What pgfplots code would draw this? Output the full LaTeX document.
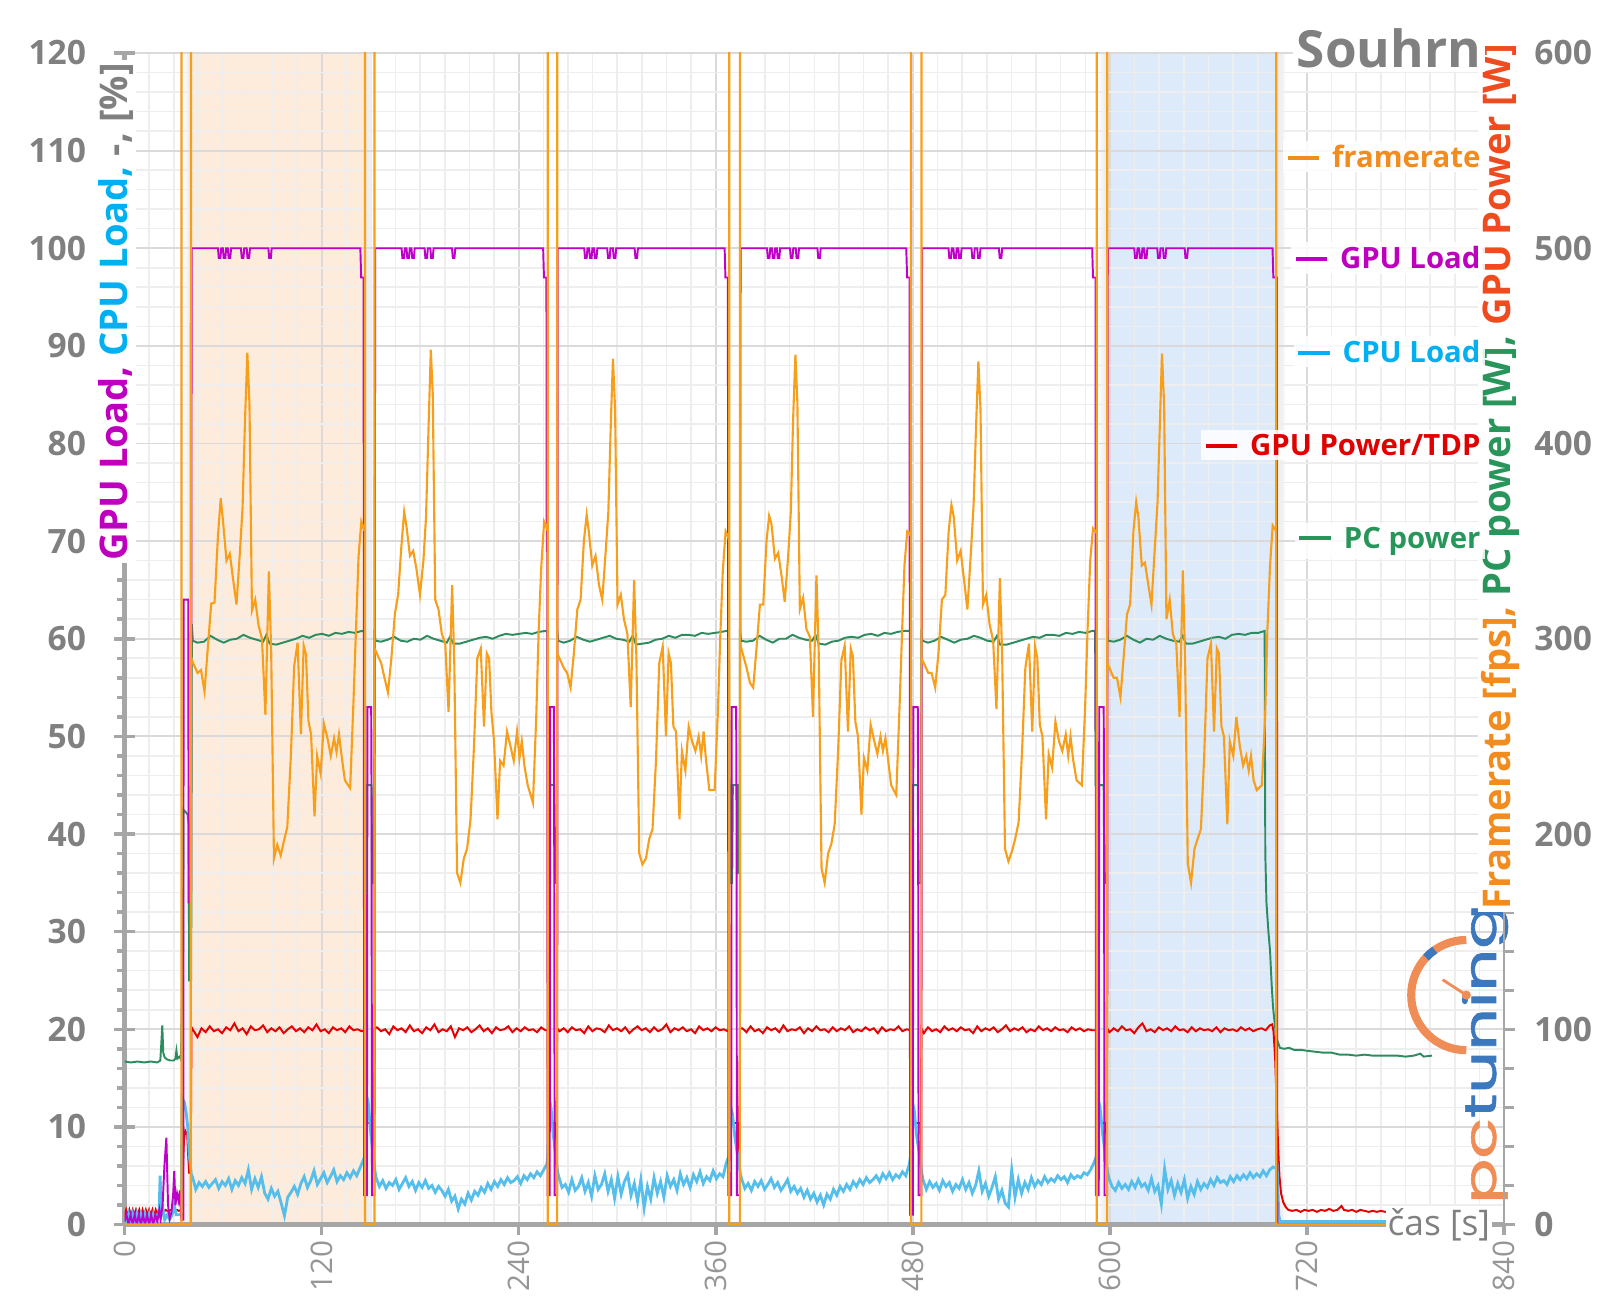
\documentclass[border=0pt]{standalone}
\usepackage{fontspec}
\setmainfont{Open Sans}
\newfontfamily\logofont{Poppins}[FakeBold=1.3]
\usepackage{pgfplots}
\pgfplotsset{compat=1.18}
\definecolor{cfr}{RGB}{247,158,27}
\definecolor{cgl}{RGB}{190,0,200}
\definecolor{ccpu}{RGB}{85,190,235}
\definecolor{cgp}{RGB}{232,0,0}
\definecolor{cpc}{RGB}{45,140,95}
\definecolor{tfr}{RGB}{242,140,30}
\definecolor{tgl}{RGB}{190,0,190}
\definecolor{tcpu}{RGB}{0,176,240}
\definecolor{tgp}{RGB}{225,0,0}
\definecolor{tpc}{RGB}{40,150,90}
\definecolor{tgpw}{RGB}{240,75,30}
\definecolor{tgray}{RGB}{128,128,128}
\definecolor{xlgray}{RGB}{150,150,150}
\definecolor{axgray}{RGB}{166,166,166}
\definecolor{gmaj}{RGB}{218,218,218}
\definecolor{gmin}{RGB}{238,238,238}
\definecolor{bando}{RGB}{253,236,220}
\definecolor{bandb}{RGB}{220,234,250}
\definecolor{shd}{RGB}{232,232,232}
\definecolor{pco}{RGB}{240,140,85}
\definecolor{pcb}{RGB}{60,120,190}
\newcommand{\fTickY}{\fontsize{9.5}{11}\selectfont\bfseries}
\newcommand{\fTickX}{\fontsize{8.4}{10}\selectfont}
\newcommand{\fLab}{\fontsize{10.8}{12}\selectfont\bfseries}
\newcommand{\fLeg}{\fontsize{8.3}{10}\selectfont\bfseries}
\newcommand{\legitem}[2]{\textcolor{#1}{\rule[0.27em]{9pt}{1.1pt}\hspace{3.6pt}#2}}
\begin{document}
\begin{tikzpicture}
\begin{axis}[
  at={(0pt,0pt)}, anchor=south west,
  scale only axis, width=390.6pt, height=331.7pt,
  xmin=0, xmax=840, ymin=0, ymax=120,
  set layers, clip mode=individual,
  axis x line*=bottom, axis y line*=left,
  axis line style={draw=axgray, line width=1.2pt},
  xtick={0,120,240,360,480,600,720,840},
  ytick={0,10,...,120},
  minor y tick num=4,
  xmajorgrids, ymajorgrids, yminorgrids,
  major grid style={draw=gmaj, line width=0.55pt},
  minor grid style={draw=gmin, line width=0.45pt},
  extra x ticks={15,30,45,60,75,90,105,135,150,165,180,195,210,225,255,270,285,300,315,330,345,375,390,405,420,435,450,465,495,510,525,540,555,570,585,615,630,645,660,675,690,705,735,750,765,780,795,810,825},
  extra x tick labels={},
  extra x tick style={major tick length=0pt, grid=major, major grid style={draw=gmin, line width=0.45pt}},
  extra y ticks={0,10,20,30,40,50,60,70,80,90,100,110,120},
  extra y tick labels={},
  extra y tick style={tick align=center, major tick length=5.7pt, grid=major, major grid style={draw=gmaj, line width=0.55pt}},
  tick align=outside,
  major tick length=3pt, minor tick length=2.2pt,
  tick style={draw=axgray, line width=1pt},
  /pgf/number format/assume math mode=true,
  xticklabel style={rotate=90, anchor=east, inner sep=1.4pt, font=\fTickX, text=xlgray},
  yticklabel style={inner sep=0pt, xshift=-7.7pt, font=\fTickY, text=tgray},
]
% band shadows and bands
\addplot[draw=none, left color=white, right color=shd, on layer=axis background, forget plot] coordinates {(35.4,0)(35.4,120)(40.4,120)(40.4,0)} \closedcycle;
\addplot[draw=none, left color=shd, right color=white, on layer=axis background, forget plot] coordinates {(146.6,0)(146.6,120)(152.6,120)(152.6,0)} \closedcycle;
\addplot[draw=none, left color=white, right color=shd, on layer=axis background, forget plot] coordinates {(592.3,0)(592.3,120)(598.3,120)(598.3,0)} \closedcycle;
\addplot[draw=none, left color=shd, right color=white, on layer=axis background, forget plot] coordinates {(701.5,0)(701.5,120)(707.5,120)(707.5,0)} \closedcycle;
\addplot[draw=none, fill=bando, on layer=axis background, forget plot] coordinates {(40.4,0)(40.4,120)(146.6,120)(146.6,0)} \closedcycle;
\addplot[draw=none, fill=bandb, on layer=axis background, forget plot] coordinates {(598.3,0)(598.3,120)(701.5,120)(701.5,0)} \closedcycle;
% PC power (left-axis units = W/5)
\addplot[cpc, line width=0.55pt] coordinates {
(0,16.7)(4,16.6)(8,16.7)(12,16.6)(16,16.7)(20,16.6)(21.8,16.8)(22.4,18.5)(23,20.4)(23.6,17.6)(24.5,17.1)(26,16.9)(28,16.8)(30,16.8)(31,17.0)(31.6,17.8)(32.2,17.0)(33.5,17.2)(34.4,16.9)(34.8,22)(35.6,26)(35.9,42.5)(38.5,42)(39.0,41)(39.4,25)(40.6,25)(41.0,61.5)(41.6,59.8)
(44.4,59.6)(48.4,59.7)(52.4,60.3)(56.4,59.9)(60.4,59.6)(64.4,59.9)(68.4,60.0)(72.4,60.4)(76.4,60.1)(80.4,59.9)(84.4,59.7)(86.4,60.4)(88.4,59.5)(92.4,59.4)(96.4,59.6)(100.4,59.8)(104.4,60.0)(108.4,60.3)(112.4,60.1)(116.4,60.4)(120.4,60.5)(124.4,60.3)(128.4,60.6)(132.4,60.5)(136.4,60.7)(140.4,60.6)(144.4,60.8)(146.3,60.7)
(146.6,34)(147.2,34)(147.6,45)(150.4,45)(150.8,35)(151.9,35)(152.2,61)(152.8,59.8)
(156.2,59.7)(160.2,59.9)(164.2,60.2)(168.2,59.8)(172.2,59.7)(176.2,60.0)(180.2,59.9)(184.2,60.3)(188.2,60.0)(192.2,59.8)(196.2,59.6)(198.2,60.2)(200.2,59.5)(204.2,59.5)(208.2,59.7)(212.2,59.9)(216.2,60.1)(220.2,60.2)(224.2,60.0)(228.2,60.3)(232.2,60.5)(236.2,60.4)(240.2,60.5)(244.2,60.6)(248.2,60.5)(252.2,60.7)(256.2,60.8)(257.6,60.7)
(257.9,38.9)(258.5,39)(258.9,45)(261.6,45)(262.0,35)(263.1,35)(263.4,61)(264.0,59.8)
(267.4,59.6)(271.4,59.8)(275.4,60.2)(279.4,59.9)(283.4,59.7)(287.4,59.9)(291.4,60.1)(295.4,60.3)(299.4,60.0)(303.4,59.9)(307.4,59.7)(309.4,60.3)(311.4,59.4)(315.4,59.5)(319.4,59.6)(323.4,59.9)(327.4,60.0)(331.4,60.3)(335.4,60.1)(339.4,60.4)(343.4,60.4)(347.4,60.3)(351.4,60.6)(355.4,60.5)(359.4,60.6)(363.4,60.7)(366.4,60.8)(368.0,60.8)
(368.4,45)(368.8,45)(369.1,35)(370.0,35)(370.4,45)(373.2,45)(373.6,36)(374.4,36)(374.7,61)(375.3,59.8)
(378.7,59.7)(382.7,59.8)(386.7,60.3)(390.7,59.9)(394.7,59.6)(398.7,60.0)(402.7,60.0)(406.7,60.4)(410.7,60.1)(414.7,59.9)(418.7,59.8)(420.7,60.4)(422.7,59.5)(426.7,59.4)(430.7,59.7)(434.7,59.8)(438.7,60.1)(442.7,60.2)(446.7,60.1)(450.7,60.4)(454.7,60.5)(458.7,60.3)(462.7,60.6)(466.7,60.5)(470.7,60.7)(474.7,60.8)(478.6,60.8)
(479.0,40)(479.6,40)(480.0,45)(483.0,45)(483.4,35)(484.9,35)(485.2,61)(485.8,59.8)
(489.2,59.6)(493.2,59.8)(497.2,60.2)(501.2,59.9)(505.2,59.6)(509.2,59.9)(513.2,60.0)(517.2,60.3)(521.2,60.1)(525.2,59.8)(529.2,59.7)(531.2,60.3)(533.2,59.4)(537.2,59.4)(541.2,59.6)(545.2,59.8)(549.2,60.0)(553.2,60.2)(557.2,60.1)(561.2,60.4)(565.2,60.4)(569.2,60.3)(573.2,60.6)(577.2,60.5)(581.2,60.7)(585.2,60.6)(589.2,60.8)(591.0,60.8)
(591.3,45)(591.9,45)(592.2,33)(593.0,33)(593.4,45)(596.2,45)(596.6,35)(598.0,35)(598.3,61)(598.9,59.8)
(602.3,59.7)(606.3,59.9)(610.3,60.3)(614.3,59.9)(618.3,59.6)(622.3,60.0)(626.3,59.9)(630.3,60.3)(634.3,60.0)(638.3,59.8)(642.3,59.7)(644.3,60.3)(646.3,59.5)(650.3,59.5)(654.3,59.7)(658.3,59.9)(662.3,60.1)(666.3,60.2)(670.3,60.0)(674.3,60.4)(678.3,60.5)(682.3,60.4)(686.3,60.6)(690.3,60.6)(694.2,60.8)
(694.6,38)(695.3,33)(696.5,30)(697.5,28)(698.5,24.5)(699.3,22.3)(700.5,20.3)(701.8,18.9)(703.5,18.1)(706,18.0)(709,18.1)(712,17.9)(716,17.9)(720,17.8)(725,17.7)(730,17.6)(735,17.6)(740,17.4)(745,17.4)(750,17.3)(755,17.4)(760,17.3)(765,17.3)(770,17.3)(775,17.3)(780,17.2)(785,17.3)(789,17.5)(791,17.2)(796,17.3)
};
% GPU Power / TDP
\addplot[cgp, line width=0.55pt] coordinates {
(0,0.8)(1,1.5)(2,0.9)(3,1.5)(4,0.9)(5,1.5)(6,0.9)(7,1.5)(8,0.9)(9,1.5)(10,0.9)(11,1.5)(12,0.9)(13,1.5)(14,0.9)(15,1.5)(16,0.9)(17,1.5)(18,0.9)(19,1.5)(20,1.0)(21,1.5)(22,1.3)(23,1.5)(24,1.3)(25,1.5)(26,1.4)(27,1.4)(28,1.5)(29,1.4)(30,1.5)(31,1.4)(32,1.5)(33,1.4)(34.6,1.5)(35.4,5)(36.2,8.6)(37,9.6)(38.2,9.2)(38.8,7)(39.4,5.3)(40.3,5.3)(40.8,20.2)
(41.9,19.9)(44.4,19.2)(46.9,20.1)(49.4,19.7)(51.9,20.3)(54.4,19.8)(56.9,20.0)(59.4,19.6)(61.9,20.2)(64.4,19.9)(66.9,20.6)(69.4,19.8)(71.9,20.1)(74.4,19.5)(76.9,20.3)(79.4,19.9)(81.9,20.0)(84.4,20.4)(86.9,19.7)(89.4,20.1)(91.9,19.8)(94.4,20.2)(96.9,19.6)(99.4,20.0)(101.9,20.3)(104.4,19.8)(106.9,20.1)(109.4,19.7)(111.9,20.2)(114.4,19.9)(116.9,20.5)(119.4,19.8)(121.9,20.0)(124.4,19.6)(126.9,20.2)(129.4,19.9)(131.9,20.1)(134.4,19.7)(136.9,20.3)(139.4,19.9)(141.9,20.0)(144.4,19.8)
(146.3,19.9)(146.6,6.5)(146.75,10.4)(151.6,10.4)(151.75,6.5)(152.2,20.1)
(153.7,20.2)(156.2,19.8)(158.7,20.0)(161.2,19.5)(163.7,20.3)(166.2,19.9)(168.7,20.1)(171.2,19.7)(173.7,20.4)(176.2,19.8)(178.7,20.0)(181.2,19.6)(183.7,20.2)(186.2,19.9)(188.7,20.5)(191.2,19.7)(193.7,20.0)(196.2,19.8)(198.7,20.3)(201.2,19.2)(203.7,20.1)(206.2,19.9)(208.7,20.2)(211.2,19.7)(213.7,20.0)(216.2,20.4)(218.7,19.8)(221.2,20.1)(223.7,19.6)(226.2,20.2)(228.7,19.9)(231.2,20.0)(233.7,20.3)(236.2,19.7)(238.7,20.1)(241.2,19.8)(243.7,20.2)(246.2,19.9)(248.7,20.0)(251.2,19.7)(253.7,20.2)(256.2,19.9)
(257.6,19.9)(257.9,6.5)(258.05,10.4)(262.8,10.4)(262.95,6.5)(263.4,20.1)
(264.9,19.8)(267.4,20.1)(269.9,19.7)(272.4,20.2)(274.9,19.9)(277.4,20.0)(279.9,19.6)(282.4,20.3)(284.9,19.8)(287.4,20.1)(289.9,20.0)(292.4,19.7)(294.9,20.4)(297.4,19.9)(299.9,20.1)(302.4,19.8)(304.9,20.2)(307.4,19.6)(309.9,20.0)(312.4,20.3)(314.9,19.9)(317.4,20.1)(319.9,19.7)(322.4,20.2)(324.9,19.8)(327.4,20.0)(329.9,20.5)(332.4,19.7)(334.9,20.1)(337.4,19.9)(339.9,20.2)(342.4,19.8)(344.9,20.0)(347.4,19.6)(349.9,20.3)(352.4,19.9)(354.9,20.1)(357.4,19.8)(359.9,20.2)(362.4,19.9)(364.9,20.0)(367.4,19.8)
(368.1,19.9)(368.4,6.5)(368.55,10.4)(374.1,10.4)(374.25,6.5)(374.7,20.1)
(376.2,20.1)(378.7,19.7)(381.2,20.3)(383.7,19.8)(386.2,20.0)(388.7,19.6)(391.2,20.2)(393.7,19.9)(396.2,20.1)(398.7,19.7)(401.2,20.4)(403.7,19.8)(406.2,20.0)(408.7,19.9)(411.2,20.2)(413.7,19.6)(416.2,20.1)(418.7,19.8)(421.2,20.3)(423.7,19.9)(426.2,20.0)(428.7,19.7)(431.2,20.2)(433.7,19.8)(436.2,20.1)(438.7,19.9)(441.2,20.3)(443.7,19.7)(446.2,20.0)(448.7,19.8)(451.2,20.2)(453.7,19.9)(456.2,20.1)(458.7,19.6)(461.2,20.2)(463.7,19.8)(466.2,20.0)(468.7,19.9)(471.2,20.3)(473.7,19.8)(476.2,20.0)
(478.7,19.9)(479.0,6.5)(479.15,10.4)(484.6,10.4)(484.75,6.5)(485.2,20.1)
(486.7,19.6)(489.2,20.2)(491.7,19.8)(494.2,20.0)(496.7,19.7)(499.2,20.3)(501.7,19.9)(504.2,20.1)(506.7,19.8)(509.2,20.2)(511.7,19.9)(514.2,20.0)(516.7,19.6)(519.2,20.3)(521.7,19.8)(524.2,20.1)(526.7,19.9)(529.2,20.2)(531.7,19.7)(534.2,20.0)(536.7,20.4)(539.2,19.8)(541.7,20.1)(544.2,19.9)(546.7,20.2)(549.2,19.7)(551.7,20.0)(554.2,19.8)(556.7,20.3)(559.2,19.9)(561.7,20.1)(564.2,19.8)(566.7,20.2)(569.2,19.9)(571.7,20.0)(574.2,19.7)(576.7,20.2)(579.2,19.9)(581.7,20.1)(584.2,19.8)(586.7,20.0)(589.2,19.9)
(591.9,19.9)(592.2,6.5)(592.35,10.4)(597.7,10.4)(597.85,6.5)(598.3,20.1)
(599.8,19.7)(602.3,20.1)(604.8,19.8)(607.3,20.3)(609.8,19.9)(612.3,20.0)(614.8,19.6)(617.3,20.2)(619.8,20.6)(622.3,19.8)(624.8,20.0)(627.3,19.7)(629.8,20.2)(632.3,19.9)(634.8,20.1)(637.3,19.8)(639.8,20.3)(642.3,19.9)(644.8,20.0)(647.3,19.7)(649.8,20.2)(652.3,19.8)(654.8,20.1)(657.3,19.9)(659.8,20.0)(662.3,19.8)(664.8,20.2)(667.3,19.7)(669.8,20.1)(672.3,19.9)(674.8,20.0)(677.3,19.8)(679.8,20.2)(682.3,19.9)(684.8,20.1)(687.3,19.8)(689.8,20.0)(692.3,20.1)(694.8,19.9)(697.3,20.4)
(698.8,20.5)(699.6,19.8)(700.6,17)(701.6,12)(702.4,8)(703.2,5)(704.2,3.2)(705.5,2.3)(707,1.8)(708.6,1.5)(711,1.4)(713.5,1.5)(716,1.3)(718.5,1.5)(721,1.4)(723.5,1.5)(726,1.3)(728.5,1.5)(731,1.4)(733.5,1.6)(736,1.4)(738.5,1.5)(741,1.9)(742.5,1.5)(745,1.4)(747.5,1.5)(750,1.3)(752.5,1.5)(755,1.4)(757.5,1.3)(760,1.4)(762.5,1.3)(765,1.4)(767.5,1.3)(770,1.4)(772.5,1.3)(775,1.4)(777.5,1.5)(780,1.3)(782.5,1.4)(785,1.5)(787.5,1.3)(790,1.4)(792.5,1.3)(796,1.4)
};
% CPU Load
\addplot[ccpu, line width=0.8pt] coordinates {
(0,0.5)(1.2,0)(2.5,1)(3.7,0)(5,1)(6.2,0)(7.5,1)(8.7,0)(10,1)(11.2,0)(12.5,1)(13.7,0)(15,1)(16.2,0)(17.5,1)(18.7,0)(20,1)(21,1)(21.7,5)(22.4,1)(23.5,1.5)(24.5,0.5)(26,1)(27.5,0.5)(29,1)(30.3,2)(31.5,1)(33,1)(34.5,1)(35,13)(36.5,12.5)(37.5,11.5)(38.5,10)(39.5,7)(40.8,5)
(41.4,4.9)(43.4,3.6)(45.4,4.3)(47.4,3.9)(49.4,4.4)(51.4,3.8)(53.4,4.2)(55.4,4.6)(57.4,3.7)(59.4,4.4)(61.4,4.0)(63.4,4.7)(65.4,3.6)(67.4,4.5)(69.4,4.0)(71.4,4.8)(73.4,4.2)(75.4,5.6)(77.4,3.6)(79.4,4.7)(81.4,3.8)(83.4,4.9)(85.4,3.2)(87.4,2.6)(89.4,3.7)(91.4,2.9)(93.4,3.4)(95.4,2.2)(97.4,0.9)(99.4,2.8)(101.4,3.3)(103.4,3.9)(105.4,3.1)(107.4,4.2)(109.4,4.9)(111.4,3.8)(113.4,4.5)(115.4,5.5)(117.4,4.1)(119.4,4.7)(121.4,5.3)(123.4,4.3)(125.4,4.9)(127.4,5.6)(129.4,4.4)(131.4,5.0)(133.4,4.6)(135.4,5.3)(137.4,4.8)(139.4,5.5)(141.4,5.0)(143.4,5.8)(145.4,6.6)
(146.2,7)(147.4,13.2)(148.4,12.5)(149.6,10)(151.1,7.5)(152.5,5.5)
(153.2,4.8)(155.2,3.9)(157.2,4.5)(159.2,3.7)(161.2,4.3)(163.2,4.0)(165.2,4.6)(167.2,3.6)(169.2,4.2)(171.2,4.8)(173.2,3.9)(175.2,4.4)(177.2,3.5)(179.2,4.3)(181.2,3.8)(183.2,4.5)(185.2,3.7)(187.2,4.0)(189.2,3.3)(191.2,3.9)(193.2,3.5)(195.2,2.9)(197.2,3.6)(199.2,2.4)(201.2,2.9)(203.2,1.6)(205.2,2.6)(207.2,2.1)(209.2,3.2)(211.2,2.5)(213.2,3.4)(215.2,3.0)(217.2,3.8)(219.2,3.3)(221.2,4.2)(223.2,3.6)(225.2,4.4)(227.2,3.9)(229.2,4.6)(231.2,4.1)(233.2,4.8)(235.2,4.3)(237.2,4.5)(239.2,4.9)(241.2,4.2)(243.2,5.0)(245.2,4.6)(247.2,5.2)(249.2,4.8)(251.2,5.4)(253.2,5.0)(255.2,5.6)(257.2,6.2)
(257.6,7)(258.7,12.8)(259.7,12)(260.9,9.5)(262.4,7.2)(263.7,5.4)
(264.4,4.9)(266.4,3.8)(268.4,4.1)(270.4,3.3)(272.4,4.6)(274.4,3.5)(276.4,3.9)(278.4,4.8)(280.4,3.4)(282.4,4.3)(284.4,2.9)(286.4,5.0)(288.4,3.6)(290.4,4.1)(292.4,5.2)(294.4,3.4)(296.4,4.6)(298.4,2.7)(300.4,4.9)(302.4,3.1)(304.4,4.4)(306.4,5.1)(308.4,3.0)(310.4,4.2)(312.4,2.4)(314.4,4.6)(316.4,1.7)(318.4,3.9)(320.4,2.6)(322.4,4.8)(324.4,3.2)(326.4,4.4)(328.4,2.8)(330.4,5.0)(332.4,3.9)(334.4,4.6)(336.4,3.5)(338.4,5.2)(340.4,4.1)(342.4,4.8)(344.4,3.8)(346.4,5.1)(348.4,4.4)(350.4,5.4)(352.4,4.2)(354.4,4.9)(356.4,4.5)(358.4,5.5)(360.4,4.7)(362.4,5.2)(364.4,4.9)(366.4,6.3)
(368.0,7)(369.2,12)(370.2,11.3)(371.6,9)(373.4,7)(375.0,5.2)
(375.7,4.7)(377.7,3.7)(379.7,4.2)(381.7,3.5)(383.7,4.4)(385.7,3.9)(387.7,4.5)(389.7,3.6)(391.7,4.1)(393.7,4.7)(395.7,3.8)(397.7,4.3)(399.7,3.5)(401.7,4.0)(403.7,4.6)(405.7,3.4)(407.7,3.9)(409.7,3.2)(411.7,3.7)(413.7,2.8)(415.7,3.5)(417.7,2.6)(419.7,3.2)(421.7,2.3)(423.7,3.0)(425.7,2.0)(427.7,3.1)(429.7,2.6)(431.7,3.6)(433.7,3.0)(435.7,3.9)(437.7,3.4)(439.7,4.1)(441.7,3.6)(443.7,4.4)(445.7,3.9)(447.7,4.6)(449.7,4.1)(451.7,4.8)(453.7,4.3)(455.7,4.6)(457.7,5.0)(459.7,4.4)(461.7,5.2)(463.7,4.7)(465.7,5.3)(467.7,4.6)(469.7,5.1)(471.7,4.8)(473.7,5.4)(475.7,5.0)(477.7,6.1)
(478.6,7)(479.8,12.5)(480.8,11.8)(482.2,9.2)(484.0,7.2)(485.5,5.2)
(486.2,4.6)(488.2,3.6)(490.2,4.4)(492.2,3.8)(494.2,4.2)(496.2,3.5)(498.2,4.5)(500.2,3.9)(502.2,4.3)(504.2,3.4)(506.2,4.1)(508.2,3.7)(510.2,4.6)(512.2,3.6)(514.2,4.3)(516.2,3.2)(518.2,4.0)(520.2,5.5)(522.2,3.4)(524.2,4.2)(526.2,2.9)(528.2,3.8)(530.2,4.9)(532.2,2.6)(534.2,3.5)(536.2,2.2)(538.2,1.8)(540.2,5.6)(542.2,2.8)(544.2,4.6)(546.2,3.2)(548.2,4.3)(550.2,3.6)(552.2,4.8)(554.2,3.9)(556.2,4.5)(558.2,4.1)(560.2,4.9)(562.2,4.3)(564.2,4.7)(566.2,4.4)(568.2,5.0)(570.2,4.6)(572.2,4.9)(574.2,4.3)(576.2,5.1)(578.2,4.7)(580.2,5.0)(582.2,4.8)(584.2,5.3)(586.2,5.1)(588.2,5.6)(590.2,6.3)
(591.8,7)(593.0,12.8)(594.0,12)(595.4,9.5)(597.2,7.2)(598.6,5.3)
(599.3,4.8)(601.3,3.9)(603.3,3.5)(605.3,4.3)(607.3,3.7)(609.3,4.1)(611.3,3.6)(613.3,4.4)(615.3,3.8)(617.3,4.6)(619.3,3.9)(621.3,4.2)(623.3,3.5)(625.3,4.7)(627.3,3.4)(629.3,4.0)(631.3,2.1)(633.3,5.7)(635.3,3.6)(637.3,4.5)(639.3,3.0)(641.3,4.2)(643.3,3.3)(645.3,4.6)(647.3,2.7)(649.3,3.9)(651.3,3.1)(653.3,4.4)(655.3,3.6)(657.3,4.2)(659.3,3.8)(661.3,4.6)(663.3,4.0)(665.3,4.8)(667.3,4.3)(669.3,4.5)(671.3,4.1)(673.3,4.9)(675.3,4.4)(677.3,5.0)(679.3,4.6)(681.3,5.1)(683.3,4.7)(685.3,5.3)(687.3,4.8)(689.3,5.2)(691.3,4.9)(693.3,5.5)(695.3,5.0)(697.3,5.6)(699.3,5.9)
(700.9,5.8)(701.8,6.0)(702.8,1.0)(703.5,0.3)(770,0.3)
};
% GPU Load
\addplot[cgl, line width=0.55pt] coordinates {
(0,0.3)(1.2,1)(2.5,0)(3.7,1)(5,0)(6.2,1)(7.5,0)(8.7,1)(10,0)(11.2,1)(12.5,0)(13.7,1)(15,0)(16.2,1)(17.5,0)(18.7,1)(20,0.3)(21.2,1.5)(22,0.5)(23.2,2)(24.3,6)(25.5,8.9)(26.5,2)(27.5,0.6)(28.5,1.2)(29.6,3)(30.3,5.5)(31,2)(32,3.2)(33,2.4)(33.8,3.5)(34.6,0.5)(35.8,0.5)(36.0,64)(38.8,64)(39.1,33)(40.5,33)(40.9,100)
(56.9,100)(57.4,99)(58.4,99)(58.9,100)(59.9,100)(60.4,99)(61.4,99)(61.9,100)(62.9,100)(63.4,99)(64.4,99)(64.9,100)(70.9,100)(71.4,99)(72.4,99)(72.9,100)(74.4,100)(74.9,99)(75.9,99)(76.4,100)(87.6,100)(88.1,99)(89.1,99)(89.6,100)
(143.6,100)(144.1,97)(145.6,97)(145.9,3)(147.6,3)(147.9,53)(150.2,53)(150.4,45)(150.7,3)(152.2,3)(152.6,100)
(168.7,100)(169.2,99)(170.2,99)(170.7,100)(171.7,100)(172.2,99)(173.2,99)(173.7,100)(174.7,100)(175.2,99)(176.2,99)(176.7,100)(182.7,100)(183.2,99)(184.2,99)(184.7,100)(186.2,100)(186.7,99)(187.7,99)(188.2,100)(199.4,100)(199.9,99)(200.9,99)(201.4,100)
(254.9,100)(255.4,97)(256.9,97)(257.1,69)(257.4,69)(257.6,3)(258.9,3)(259.2,53)(261.4,53)(261.6,45)(261.9,3)(263.4,3)(263.8,100)
(279.9,100)(280.4,99)(281.4,99)(281.9,100)(282.9,100)(283.4,99)(284.4,99)(284.9,100)(285.9,100)(286.4,99)(287.4,99)(287.9,100)(293.9,100)(294.4,99)(295.4,99)(295.9,100)(297.4,100)(297.9,99)(298.9,99)(299.4,100)(310.6,100)(311.1,99)(312.1,99)(312.6,100)
(365.4,100)(365.9,97)(367.4,97)(367.7,3)(369.4,3)(369.7,53)(372.4,53)(372.6,45)(372.9,3)(374.7,3)(375.1,100)
(391.2,100)(391.7,99)(392.7,99)(393.2,100)(394.2,100)(394.7,99)(395.7,99)(396.2,100)(397.2,100)(397.7,99)(398.7,99)(399.2,100)(405.2,100)(405.7,99)(406.7,99)(407.2,100)(408.7,100)(409.2,99)(410.2,99)(410.7,100)(421.9,100)(422.4,99)(423.4,99)(423.9,100)
(476.0,100)(476.5,97)(478.0,97)(478.3,1)(480.0,1)(480.3,53)(483.0,53)(483.2,45)(483.5,3)(485.2,3)(485.6,100)
(501.7,100)(502.2,99)(503.2,99)(503.7,100)(504.7,100)(505.2,99)(506.2,99)(506.7,100)(507.7,100)(508.2,99)(509.2,99)(509.7,100)(515.7,100)(516.2,99)(517.2,99)(517.7,100)(519.2,100)(519.7,99)(520.7,99)(521.2,100)(532.4,100)(532.9,99)(533.9,99)(534.4,100)
(589.2,100)(589.7,97)(591.2,97)(591.5,3)(593.2,3)(593.5,53)(596.2,53)(596.4,45)(596.7,3)(598.3,3)(598.7,100)
(614.8,100)(615.3,99)(616.3,99)(616.8,100)(617.8,100)(618.3,99)(619.3,99)(619.8,100)(620.8,100)(621.3,99)(622.3,99)(622.8,100)(628.8,100)(629.3,99)(630.3,99)(630.8,100)(632.3,100)(632.8,99)(633.8,99)(634.3,100)(645.5,100)(646.0,99)(647.0,99)(647.5,100)
(699.0,100)(699.5,97)(701.6,97)(701.9,0)(770,0)
};
% framerate
\addplot[cfr, line width=0.6pt] coordinates {
(0,0)(34.7,0)(34.7,200)(34.75,0)(40.35,0)(40.4,200)
(40.5,58)(44.5,56.5)(46.6,56.8)(48.7,54.6)(50.7,59)(52.8,63.6)(54.8,63.7)(56.9,70.5)(58.6,74.4)(59.9,72.2)(62.1,68)(64.1,68.7)(66.2,66)(68.2,63.5)(70.4,69.2)(71.9,73.5)(73.4,82.5)(74.8,89.3)(76.1,84)(77.6,62.9)(79.6,64)(81.6,61.4)(83.7,60)(85.8,52.2)(87.9,66.9)(89.3,58.8)(91.0,37.5)(93.0,38.9)(95.1,37.8)(97.1,39.3)(99.1,40.7)(101.3,48)(103.3,57.2)(105.4,59.6)(107.4,50.2)(109.1,59.3)(110.5,58.4)(112.0,51.6)(113.6,50.2)(115.7,41.8)(117.3,48)(119.4,46.2)(121.4,51.3)(123.6,49.8)(125.6,48)(127.6,49.8)(129.1,48.4)(130.6,50.2)(132.2,48)(134.2,45.5)(137.4,44.7)(139.4,53.5)(140.9,60.7)(142.5,68.4)(144.2,72)(145.5,71.3)
(146.35,71)(146.4,200)(146.4,0)(152.2,0)(152.2,200)
(152.3,59)(156.3,57.5)(158.3,56)(160.4,54.5)(162.5,58)(164.6,62.5)(166.6,64.5)(168.6,69.5)(170.3,73)(171.7,71.5)(173.8,68.5)(175.8,69)(177.9,67)(179.9,64.5)(182.0,68)(183.6,72.5)(185.1,81.5)(186.5,89.6)(187.7,85)(189.2,64)(191.2,63)(193.2,60.5)(195.3,59.5)(197.3,52.5)(199.5,65.5)(200.8,57.5)(202.5,36)(204.5,35)(206.6,37.5)(208.6,38.5)(210.7,41.5)(212.8,49)(214.8,58)(216.9,59)(218.9,51)(220.6,58.5)(222.0,58)(223.4,52.5)(225.0,49.5)(227.1,41.5)(228.7,47.5)(230.8,47)(232.9,50.5)(235.0,49)(237.0,47.5)(239.0,50.5)(240.5,47.8)(241.9,49.5)(243.5,47)(245.5,45)(248.7,43.2)(250.7,52)(252.2,61)(253.8,67.5)(255.5,72)(256.8,71.5)
(257.65,71)(257.7,200)(257.7,0)(263.4,0)(263.4,200)
(263.5,58.5)(267.5,57)(269.5,56.5)(271.6,55)(273.6,58.5)(275.7,63)(277.7,64)(279.7,70)(281.4,72.7)(282.7,71)(284.8,67.5)(286.8,68.5)(288.9,65.5)(290.9,64)(293.0,69)(294.6,73)(296.1,82)(297.4,88.7)(298.7,83.5)(300.2,63.5)(302.2,64.5)(304.1,62)(306.2,60.5)(308.2,53)(310.3,66)(311.7,58)(313.4,38)(315.4,36.9)(317.5,37.5)(319.5,39.5)(321.5,40.5)(323.6,47.5)(325.6,57.5)(327.7,59.2)(329.7,50)(331.3,58.5)(332.7,57.5)(334.2,51)(335.8,50.5)(337.9,41.5)(339.4,48.5)(341.5,46.5)(343.5,51)(345.6,49.5)(347.6,48.5)(349.6,50)(351.1,48)(352.6,50.5)(354.1,47.5)(356.1,44.5)(359.3,44.5)(361.3,52.5)(362.7,60)(364.3,67)(366.0,71)(367.4,70.5)
(368.15,70)(368.2,200)(368.2,0)(374.7,0)(374.7,200)
(374.8,59.5)(378.8,57)(380.8,55.5)(382.8,55)(384.8,59)(386.9,63.5)(388.9,63.5)(390.9,70)(392.5,72.6)(393.9,71.8)(396.0,68.2)(398.0,68.8)(400.0,66.5)(402.0,63.8)(404.1,68.5)(405.7,73)(407.1,82.5)(408.5,89.1)(409.7,84.2)(411.2,63)(413.2,64.2)(415.2,61)(417.3,60.2)(419.2,52)(421.3,66.5)(422.7,58.5)(424.4,36.5)(426.3,35)(428.4,38)(430.4,39)(432.4,41)(434.5,48.5)(436.5,57.8)(438.5,59.3)(440.5,50.5)(442.2,59)(443.5,58.2)(445.0,51.5)(446.6,50)(448.7,42)(450.2,47.8)(452.3,46.5)(454.3,51.2)(456.4,49.6)(458.4,48.2)(460.3,50)(461.8,48.5)(463.3,49.8)(464.8,47.8)(466.8,45)(469.9,44)(471.9,53)(473.4,60.5)(474.9,67.5)(476.6,71)(478.0,70.8)
(478.75,70.5)(478.8,200)(478.8,0)(485.2,0)(485.2,200)
(485.3,58)(489.4,56.5)(491.4,56.5)(493.6,55)(495.6,58.5)(497.7,64)(499.8,64.5)(501.8,71)(503.5,73.7)(504.9,72.5)(507.0,68)(509.1,69)(511.2,66)(513.2,63)(515.4,69)(517.0,73.8)(518.5,81.8)(519.9,88.4)(521.2,83.5)(522.7,63.5)(524.7,64.5)(526.7,61.5)(528.9,59.8)(530.9,52.8)(533.0,66.2)(534.4,58.2)(536.1,38.5)(538.2,37.2)(540.3,38.2)(542.3,39.5)(544.4,41.2)(546.5,48.5)(548.5,57)(550.7,59.5)(552.7,50.5)(554.4,59.2)(555.8,58)(557.3,51.2)(558.9,50)(561.1,41.5)(562.7,48.2)(564.8,46.8)(566.8,51.5)(569.0,49.5)(571.0,48.5)(573.1,50.2)(574.6,48)(576.0,50)(577.7,47.5)(579.7,45.5)(582.9,45)(584.9,53)(586.4,61)(588.0,68)(589.7,71.3)(591.1,71)
(591.95,70.8)(592.0,200)(592.0,0)(598.3,0)(598.3,200)
(598.4,57.5)(602.3,56)(604.3,56)(606.4,54)(608.3,58)(610.4,62.5)(612.3,63.5)(614.3,71)(616.0,74)(617.3,72.5)(619.4,67.5)(621.3,67.8)(623.4,65.5)(625.3,63.5)(627.4,69.5)(629.0,74)(630.4,82)(631.7,89.2)(633.0,84)(634.4,62)(636.4,64)(638.3,60.5)(640.4,59.5)(642.4,52)(644.4,67)(645.8,57.5)(647.4,37)(649.4,35)(651.5,38.5)(653.4,39.5)(655.4,40.5)(657.4,48)(659.4,58)(661.5,59.5)(663.4,50.5)(665.1,59)(666.4,58.5)(667.9,51)(669.4,50)(671.5,41)(673.0,49.5)(675.1,48)(677.0,52)(679.1,49)(681.1,47)(683.0,48)(684.5,46.5)(685.9,48)(687.5,45.5)(689.4,44.5)(692.5,45)(694.5,52)(695.9,61)(697.5,67.5)(699.1,71.6)(700.5,71.2)
(701.25,71)(701.3,200)(701.3,0)(770,0)
};
% logo (decoration)
\node[rotate=90, inner sep=0pt] at (axis cs:828.4,17.5) {\resizebox*{85pt}{13pt}{\logofont\textcolor{pco}{pc}\textcolor{pcb}{tuning}}};
\draw[pco, line width=2.3pt] (axis cs:817,23.5) ++(90:15.6pt) arc[start angle=90, end angle=270, radius=15.6pt];
\draw[pcb, line width=2.3pt] (axis cs:817,23.5) ++(125:15.6pt) arc[start angle=125, end angle=137, radius=15.6pt];
\draw[pco, line width=0.8pt] (axis cs:817,23.5) -- ++(147:8pt);
\fill[pco] (axis cs:817,23.5) circle (1.3pt);
\coordinate (labL) at (axis cs:0,93.5);
\coordinate (labR) at (axis cs:840,76.6);
\coordinate (souhrn) at (axis cs:828.5,118.5);
\coordinate (cas) at (axis cs:833,0);
\coordinate (leg1) at (axis cs:828.6,109.4);
\coordinate (leg2) at (axis cs:828.6,99);
\coordinate (leg3) at (axis cs:828.6,89.4);
\coordinate (leg4) at (axis cs:828.6,79.8);
\coordinate (leg5) at (axis cs:828.6,70);
\end{axis}
\begin{axis}[
  at={(0pt,0pt)}, anchor=south west,
  scale only axis, width=390.6pt, height=331.7pt,
  xmin=0, xmax=840, ymin=0, ymax=600,
  axis x line=none, axis y line*=right,
  axis line style={draw=axgray, line width=0.6pt},
  ytick={0,100,...,600}, minor y tick num=4,
  tick align=outside, major tick length=3pt, minor tick length=2.8pt,
  tick style={draw=axgray, line width=0.8pt},
  /pgf/number format/assume math mode=true,
  yticklabel style={anchor=west, inner sep=0pt, xshift=5.4pt, font=\fTickY, text=tgray},
]
\end{axis}
\node[rotate=90, fill=white, inner sep=0.8pt, font=\fLab] at ([xshift=-2.4pt]labL) {\textcolor{tgl}{GPU Load, }\textcolor{tcpu}{CPU Load, }\textcolor{tgray}{-, [\%]}};
\node[rotate=90, fill=white, inner sep=0.8pt, font=\fLab] at ([xshift=-1.1pt]labR) {\textcolor{tfr}{Framerate [fps], }\textcolor{tpc}{PC power [W], }\textcolor{tgpw}{GPU Power [W]}};
\node[anchor=base east, fill=white, inner sep=1pt, font=\fontsize{14.5}{17}\selectfont\bfseries, text=tgray] at (souhrn) {Souhrn};
\node[anchor=east, fill=white, inner sep=0.5pt, font=\fontsize{10}{12}\selectfont, text=tgray] at (cas) {čas [s]};
\tikzset{legn/.style={anchor=east, fill=white, fill opacity=0.85, text opacity=1, inner sep=1.2pt, font=\fLeg}}
\node[legn] at (leg1) {\legitem{tfr}{framerate}};
\node[legn] at (leg2) {\legitem{tgl}{GPU Load}};
\node[legn] at (leg3) {\legitem{tcpu}{CPU Load}};
\node[legn] at (leg4) {\legitem{tgp}{GPU Power/TDP}};
\node[legn] at (leg5) {\legitem{tpc}{PC power}};
\pgfresetboundingbox
\path[use as bounding box] (-35.25pt,-25.06pt) rectangle (417.75pt,346.7pt);
\end{tikzpicture}
\end{document}
